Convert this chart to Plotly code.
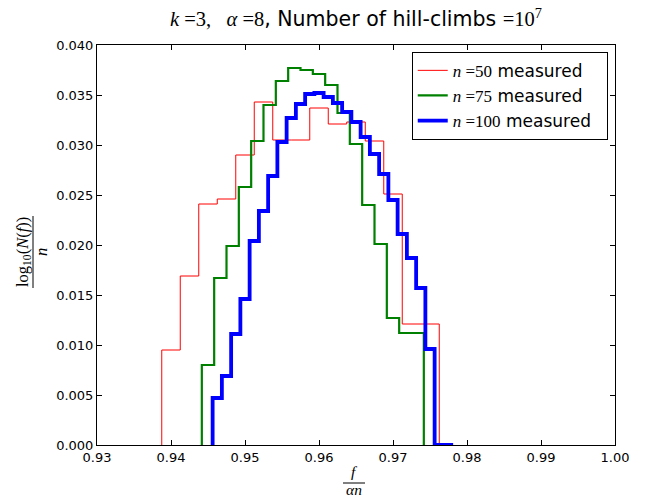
import plotly.graph_objects as go

# ---------------- data ----------------
ALPHA = 8

# n = 50 : hill-climb fitness values f and log10(N(f))/n
n50_f = list(range(376, 391))
n50_vals = [0.0095, 0.0169, 0.0241, 0.0246, 0.0290, 0.0343, 0.0305, 0.0305,
            0.0337, 0.0321, 0.0323, 0.0304, 0.0251, 0.0121, 0.0121]

# n = 75
n75_f = list(range(567, 585))
n75_vals = [0.0080, 0.0167, 0.0199, 0.0258, 0.0304, 0.0340, 0.0364, 0.0377,
            0.0375, 0.0371, 0.0360, 0.0332, 0.0301, 0.0240, 0.0201, 0.0127,
            0.0112, 0.0112]

# n = 100
n100_f = list(range(757, 783))
n100_vals = [0.0047, 0.0069, 0.0111, 0.0146, 0.0204, 0.0234, 0.0269, 0.0303,
             0.0327, 0.0341, 0.0351, 0.0352, 0.0348, 0.0342, 0.0333, 0.0323,
             0.0308, 0.0291, 0.0271, 0.0245, 0.0211, 0.0187, 0.0157, 0.0096,
             0.0, 0.0]

x_ticks = [0.93, 0.94, 0.95, 0.96, 0.97, 0.98, 0.99, 1.00]
y_ticks = [0.000, 0.005, 0.010, 0.015, 0.020, 0.025, 0.030, 0.035, 0.040]

SERIF = "Liberation Serif"
SANS = "DejaVu Sans"
NB = "\u00a0"


def step_xy(f_vals, vals, n):
    an = ALPHA * n
    edges = [(f - 0.5) / an for f in f_vals] + [(f_vals[-1] + 0.5) / an]
    xs, ys = [edges[0]], [0.0]
    for i, v in enumerate(vals):
        xs += [edges[i], edges[i + 1]]
        ys += [v, v]
    xs.append(edges[-1])
    ys.append(0.0)
    return xs, ys


def math(s):
    return f"<span style='font-family:{SERIF}'>{s}</span>"


fig = go.Figure()
series = [
    (n50_f, n50_vals, 50, "#ff0000", 1.0),
    (n75_f, n75_vals, 75, "#008000", 2.2),
    (n100_f, n100_vals, 100, "#0000ff", 3.8),
]
for f_vals, vals, n, col, w in series:
    xs, ys = step_xy(f_vals, vals, n)
    fig.add_trace(go.Scatter(
        x=xs, y=ys, mode="lines",
        line=dict(color=col, width=w),
        name=math(f"<i>n</i> ={n}") + " measured" + NB + NB,
    ))

axis_common = dict(
    showgrid=False, zeroline=False, showline=True, linecolor="black",
    linewidth=1, mirror="ticks", ticks="inside", ticklen=5,
    tickcolor="black", tickwidth=1,
    tickfont=dict(family=SANS, size=13, color="black"),
)

fig.update_layout(
    width=647, height=500,
    margin=dict(l=97, r=32, t=45, b=55, pad=0),
    paper_bgcolor="white", plot_bgcolor="white",
    title=dict(
        text=math("<i>k</i> =3," + NB * 3 + "<i>α</i> =8")
        + ", Number of hill-climbs " + math("=10<sup>7</sup>"),
        x=0.5, xref="paper", y=0.962, yref="container",
        xanchor="center", yanchor="middle",
        font=dict(family=SANS, size=20.5, color="black"),
    ),
    xaxis=dict(range=[0.93, 1.00], tickvals=x_ticks,
               ticktext=[f"{v:.2f}" for v in x_ticks], **axis_common),
    yaxis=dict(range=[0.0, 0.04], tickvals=y_ticks,
               ticktext=[f"{v:.3f}" for v in y_ticks], **axis_common),
    legend=dict(
        x=0.986, y=0.983, xanchor="right", yanchor="top",
        bgcolor="white", bordercolor="black", borderwidth=1,
        font=dict(family=SANS, size=17, color="black"),
        itemwidth=30,
    ),
    showlegend=True,
)

# y-axis label: fraction log10(N(f)) / n
fig.add_annotation(
    text="log<sub>10</sub>(<i>N</i>(<i>f</i>))", textangle=-90,
    xref="paper", yref="paper", x=(23 - 97) / 518, y=(445 - 252) / 400,
    xanchor="center", yanchor="middle", showarrow=False,
    font=dict(family=SERIF, size=16.5, color="black"),
)
fig.add_shape(type="line", xref="paper", yref="paper",
              x0=(33 - 97) / 518, x1=(33 - 97) / 518,
              y0=(445 - 288) / 400, y1=(445 - 216) / 400,
              line=dict(color="black", width=1))
fig.add_annotation(
    text="<i>n</i>", textangle=-90,
    xref="paper", yref="paper", x=(41 - 97) / 518, y=(445 - 252) / 400,
    xanchor="center", yanchor="middle", showarrow=False,
    font=dict(family=SERIF, size=16.5, color="black"),
)

# x-axis label: fraction f / (alpha n)
fig.add_annotation(
    text="<i>f</i>", xref="paper", yref="paper",
    x=(354 - 97) / 518, y=(445 - 472) / 400,
    xanchor="center", yanchor="middle", showarrow=False,
    font=dict(family=SERIF, size=15.5, color="black"),
)
fig.add_shape(type="line", xref="paper", yref="paper",
              x0=(343 - 97) / 518, x1=(365 - 97) / 518,
              y0=(445 - 483) / 400, y1=(445 - 483) / 400,
              line=dict(color="black", width=1))
fig.add_annotation(
    text="<i>αn</i>", xref="paper", yref="paper",
    x=(354 - 97) / 518, y=(445 - 489.5) / 400,
    xanchor="center", yanchor="middle", showarrow=False,
    font=dict(family=SERIF, size=15.5, color="black"),
)

fig.write_html("out.html")
